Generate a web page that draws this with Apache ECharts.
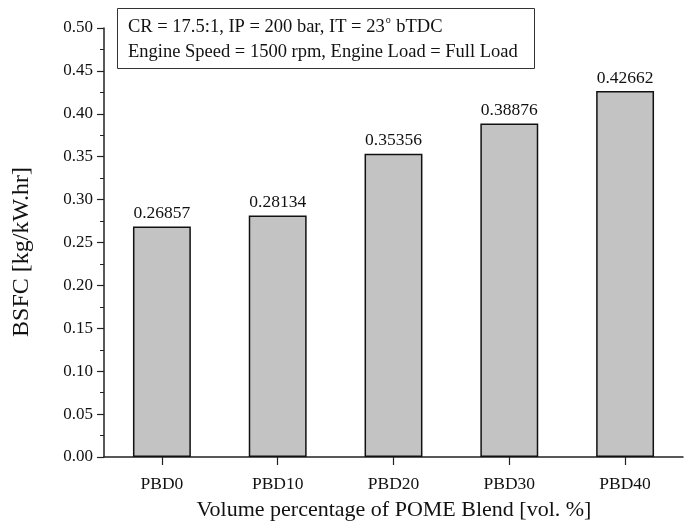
<!DOCTYPE html>
<html>
<head>
<meta charset="utf-8">
<script src="https://cdn.jsdelivr.net/npm/echarts@6/dist/echarts.min.js"></script>
<style>
  html, body { margin: 0; padding: 0; background: #ffffff; }
  #chart { width: 694px; height: 527px; }
</style>
</head>
<body>
<div id="chart"></div>
<script>
// Blend categories and measured brake specific fuel consumption
const categories = ['PBD0', 'PBD10', 'PBD20', 'PBD30', 'PBD40'];
const bsfcValues = [0.26857, 0.28134, 0.35356, 0.38876, 0.42662];
const yTicks = { min: 0, max: 0.5, interval: 0.05 };
const noteLines = [
  'CR = 17.5:1, IP = 200 bar, IT = 23{sup|o} bTDC',
  'Engine Speed = 1500 rpm, Engine Load = Full Load'
];
const yTitle = 'BSFC [kg/kW.hr]';
const xTitle = 'Volume percentage of POME Blend [vol. %]';

const FONT = '"Liberation Serif", "Times New Roman", serif';
const chart = echarts.init(document.getElementById('chart'), null, { renderer: 'canvas' });

chart.setOption({
  backgroundColor: '#ffffff',
  animation: false,
  grid: { left: 104, right: 11, top: 28, bottom: 70, containLabel: false, outerBoundsMode: 'none' },
  graphic: [
    {
      type: 'rect',
      shape: { x: 117.5, y: 8.5, width: 417, height: 60 },
      style: { fill: '#ffffff', stroke: '#333333', lineWidth: 1 },
      z: 10
    },
    {
      type: 'text',
      left: 128, top: 15,
      style: {
        text: noteLines.join('\n'),
        font: '18.5px ' + FONT,
        fill: '#111111',
        lineHeight: 25,
        rich: {
          sup: { fontSize: 10, verticalAlign: 'top', padding: [0, 1, 9, 1], fontFamily: FONT, fill: '#111111' }
        }
      },
      z: 11
    },
    {
      // vertical axis title
      type: 'text',
      x: 22, y: 252,
      rotation: Math.PI / 2,
      style: {
        text: yTitle,
        font: '24px ' + FONT,
        fill: '#111111',
        align: 'center',
        verticalAlign: 'middle'
      },
      z: 11
    },
    {
      // horizontal axis title
      type: 'text',
      x: 394, y: 510,
      style: {
        text: xTitle,
        font: '22px ' + FONT,
        fill: '#111111',
        align: 'center',
        verticalAlign: 'middle'
      },
      z: 11
    }
  ],
  xAxis: {
    type: 'category',
    data: categories,
    boundaryGap: true,
    axisLine: { show: true, lineStyle: { color: '#222222', width: 1.5 } },
    axisTick: { show: true, alignWithLabel: true, length: 8, lineStyle: { color: '#222222', width: 1.2 } },
    axisLabel: { fontFamily: FONT, fontSize: 17.5, color: '#111111', margin: 18 },
    splitLine: { show: false }
  },
  yAxis: {
    type: 'value',
    min: yTicks.min,
    max: yTicks.max,
    interval: yTicks.interval,
    axisLine: { show: true, lineStyle: { color: '#222222', width: 1.5 } },
    axisTick: { show: true, inside: false, length: 7, lineStyle: { color: '#222222', width: 1.2 } },
    minorTick: { show: true, splitNumber: 2, length: 4, lineStyle: { color: '#222222', width: 1 } },
    axisLabel: {
      fontFamily: FONT, fontSize: 17, color: '#111111', margin: 11,
      formatter: v => v.toFixed(2)
    },
    splitLine: { show: false }
  },
  series: [
    {
      type: 'bar',
      data: bsfcValues,
      barWidth: '50%',
      itemStyle: { color: '#c3c3c3', borderColor: '#111111', borderWidth: 1.5 },
      label: {
        show: true,
        position: 'top',
        distance: 4,
        fontFamily: FONT,
        fontSize: 17.5,
        color: '#111111',
        formatter: p => p.value.toFixed(5)
      }
    }
  ]
});
</script>
</body>
</html>
